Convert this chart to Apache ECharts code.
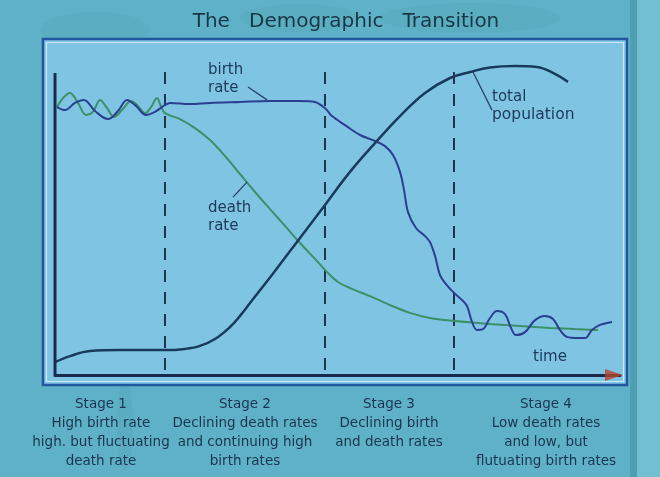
<!DOCTYPE html>
<html>
<head>
<meta charset="utf-8">
<script src="https://cdn.jsdelivr.net/npm/echarts@6/dist/echarts.min.js"></script>
<style>html,body{margin:0;padding:0;background:#5eb1c6;}#c{width:660px;height:477px;}</style>
</head>
<body>
<div id="c"></div>
<script>
// time axis (0..113) and relative level (0..110)
const birthRate = [
  [0.4,89.3],[2,88.3],[4,90.7],[5.8,91.7],[8,88],[10.6,85.3],[12.6,88],[14.4,91.7],[16.2,89.7],[18.2,86.7],[20,87.7],[22,90],
  [23,90.7],[27,90.3],[31,90.7],[37,91],[43,91.3],[49,91.3],[52,91],[53.4,89.7],[54.4,88.3],[55.4,86.3],[58,83.3],
  [61,80],[64,78],[66,76.3],[67.6,73.3],[69,67.7],[69.8,61.7],[70.6,54.3],[72.2,49],[74,46.3],[75,44.3],[76,39.7],
  [77,33.3],[78.2,30.3],[79.6,27.7],[81.2,25.3],[82.4,23],[83.4,17.7],[84.4,15],[85.6,15.3],[87,19],[88.4,21.3],
  [90,20.3],[91.2,15.7],[92.2,13.3],[94,14.3],[96,18.3],[98,19.7],[99.6,18.7],[101,15],[102.4,12.7],[104.6,12.3],
  [106,12.3],[107.4,15],[109,16.7],[111.4,17.7]
];
const deathRate = [
  [0.4,89.3],[1.6,92.3],[3,94],[4.6,90.7],[6.2,86.7],[7.6,87.7],[9,91.7],[10.4,89],[11.8,86],[13.4,88.3],[15.2,91.3],
  [16.6,89.7],[18,87.3],[19.2,89.3],[20.4,92.3],[21.2,89.5],[22,87.3],[25,85.3],[28,82.3],[31,78.3],[34,73],[37,67],
  [40,61],[43,55.3],[46,49.7],[49,44],[52,38.7],[54.6,34],[56.6,31],[59.4,28.7],[63,26.3],[67,23.3],[71,20.7],
  [75,19],[80,18],[87,17],[93,16.3],[99,15.7],[104,15.3],[108.6,15]
];
const totalPopulation = [
  [0,4.3],[3,6.3],[7,8],[13,8.3],[22,8.3],[26,8.7],[29,9.7],[32,12],[35,16],[37,19.7],[39,24],[44,34.7],[49,45.7],
  [54,56.7],[59,67.7],[64,77.3],[69,86.3],[74,94],[79,99],[83,101],[87,102.5],[92,103],[96.4,102.7],[99.6,100.7],[102.6,97.7]
];
const stageBounds = [22, 54, 79.8];
const stageTop = 103, stageBottom = 1.7;
const yAxisTop = 100.7;
const pointerBirth = [[38.6,96],[42.4,91.7]];
const pointerDeath = [[35.6,59.3],[38.4,64.3]];
const pointerTotal = [[83.6,101],[87.4,88.3]];
const arrowTip = [[111.8,0]];

const titleText = 'The   Demographic   Transition';
const stageTexts = [
  ['Stage 1','High birth rate','high. but fluctuating','death rate'],
  ['Stage 2','Declining death rates','and continuing high','birth rates'],
  ['Stage 3','Declining birth','and death rates'],
  ['Stage 4','Low death rates','and low, but','flutuating birth rates']
];
const stageCenters = [101, 245, 389, 546];

const chart = echarts.init(document.getElementById('c'), null, {renderer:'canvas'});
const navy = '#1b2a4c';
const txt = '#1c3a58';
const FONT = 'DejaVu Sans';

const graphics = [
  {type:'ellipse', shape:{cx:95,cy:30,rx:55,ry:18}, style:{fill:'#4f9fb3', opacity:0.2}, z:-11},
  {type:'ellipse', shape:{cx:300,cy:18,rx:60,ry:14}, style:{fill:'#4f9fb3', opacity:0.2}, z:-11},
  {type:'ellipse', shape:{cx:470,cy:18,rx:90,ry:15}, style:{fill:'#4f9fb3', opacity:0.2}, z:-11},
  {type:'ellipse', shape:{cx:125,cy:425,rx:8,ry:45}, style:{fill:'#4f9fb3', opacity:0.25}, z:-11},
  {type:'rect', shape:{x:632,y:0,width:28,height:477}, style:{fill:'#72bfd2'}, z:-10},
  {type:'rect', shape:{x:630,y:0,width:7,height:477}, style:{fill:'#4f9fb2'}, z:-10},
  {type:'rect', shape:{x:43,y:39,width:584,height:346}, style:{fill:'#80c4e4', stroke:'#2356a0', lineWidth:2.5}, z:-9},
  {type:'rect', shape:{x:46.5,y:42.5,width:577,height:339}, style:{fill:'none', stroke:'#cde9f3', lineWidth:1.2}, z:-8},
  {type:'text', x:346, y:22, style:{text:titleText, font:'20px "'+FONT+'"', fill:'#183746', textAlign:'center', textVerticalAlign:'middle'}},
  {type:'text', x:208, y:70, style:{text:'birth', font:'15px "'+FONT+'"', fill:txt, textVerticalAlign:'middle'}},
  {type:'text', x:208, y:88, style:{text:'rate', font:'15px "'+FONT+'"', fill:txt, textVerticalAlign:'middle'}},
  {type:'text', x:208, y:208, style:{text:'death', font:'15px "'+FONT+'"', fill:txt, textVerticalAlign:'middle'}},
  {type:'text', x:208, y:226, style:{text:'rate', font:'15px "'+FONT+'"', fill:txt, textVerticalAlign:'middle'}},
  {type:'text', x:492, y:97, style:{text:'total', font:'15px "'+FONT+'"', fill:txt, textVerticalAlign:'middle'}},
  {type:'text', x:492, y:115, style:{text:'population', font:'15.5px "'+FONT+'"', fill:txt, textVerticalAlign:'middle'}},
  {type:'text', x:533, y:357, style:{text:'time', font:'15px "'+FONT+'"', fill:txt, textVerticalAlign:'middle'}}
];
stageTexts.forEach((lines, i) => {
  lines.forEach((t, j) => {
    graphics.push({type:'text', x:stageCenters[i], y:404 + j*19,
      style:{text:t, font:'13.5px "'+FONT+'"', fill:'#1b3550', textAlign:'center', textVerticalAlign:'middle'}});
  });
});

const lineBase = {type:'line', showSymbol:false, symbol:'none', clip:false, silent:true, smooth:0.35};
const series = [
  {...lineBase, smooth:false, data:[[0,0],[0,yAxisTop]], lineStyle:{color:navy, width:3}, z:5},
];
stageBounds.forEach(x => {
  series.push({...lineBase, smooth:false, data:[[x,stageBottom],[x,stageTop]],
    lineStyle:{color:'#1d3650', width:2, type:[12,10]}, z:1});
});
series.push(
  {...lineBase, name:'death rate', data:deathRate, lineStyle:{color:'#3a9167', width:2}, z:3},
  {...lineBase, name:'birth rate', data:birthRate, lineStyle:{color:'#2a3f90', width:2}, z:4},
  {...lineBase, name:'total population', data:totalPopulation, smooth:0.4, lineStyle:{color:'#183a5c', width:2.5}, z:4},
  {...lineBase, smooth:false, data:pointerBirth, lineStyle:{color:'#26426a', width:1.3}},
  {...lineBase, smooth:false, data:pointerDeath, lineStyle:{color:'#26426a', width:1.3}},
  {...lineBase, smooth:false, data:pointerTotal, lineStyle:{color:'#26426a', width:1.3}},
  {type:'scatter', data:arrowTip, symbol:'triangle', symbolRotate:-90, symbolSize:[12,18],
    itemStyle:{color:'#b4442c'}, z:6, silent:true, clip:false}
);

chart.setOption({
  animation:false,
  backgroundColor:'#5eb1c6',
  grid:{left:55, right:40, top:45, bottom:102},
  xAxis:{type:'value', min:0, max:113, axisLine:{show:true, lineStyle:{color:navy, width:3}},
    axisTick:{show:false}, axisLabel:{show:false}, splitLine:{show:false}},
  yAxis:{type:'value', min:0, max:110, axisLine:{show:false},
    axisTick:{show:false}, axisLabel:{show:false}, splitLine:{show:false}},
  graphic:graphics,
  series:series
});
</script>
</body>
</html>
